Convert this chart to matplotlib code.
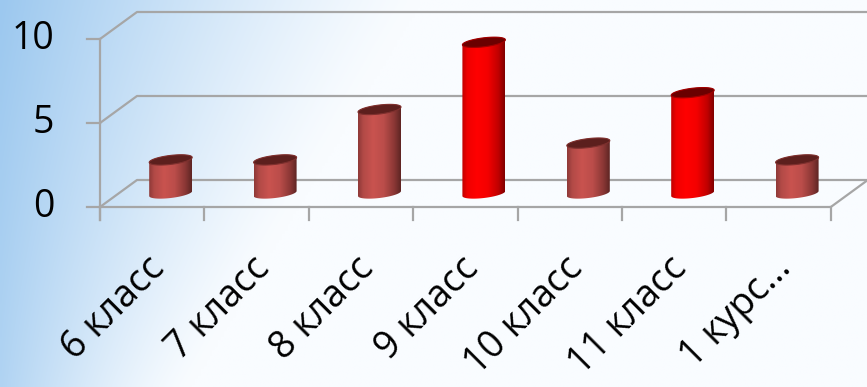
import numpy as np
import matplotlib
matplotlib.use("Agg")
import matplotlib.pyplot as plt
from matplotlib.path import Path
from matplotlib.patches import PathPatch
from matplotlib.colors import to_rgb

categories = ["6 класс", "7 класс", "8 класс", "9 класс", "10 класс", "11 класс", "1 курс..."]
values = [2, 2, 5, 9, 3, 6, 2]
highlight = [False, False, False, True, False, True, False]
yticks = [0, 5, 10]

plt.rcParams['font.family'] = ['Open Sans', 'DejaVu Sans']

fig = plt.figure(figsize=(8.67, 3.87), dpi=100)
ax = fig.add_axes([0, 0, 1, 1])
ax.set_axis_off()

# axis scale: one category = 104.4 px, one unit = 16.8 px
px_x = 104.4
px_y = 16.8
x0, y0 = 100, 207
xlim = (-x0 / px_x, (867 - x0) / px_x)
ylim = ((y0 - 387) / px_y, y0 / px_y)

# depth of the 3d box
dx = 37 / px_x
dy = 27 / px_y

# background: light blue in the upper left, fading to white
gx = np.linspace(0, 867, 300)
gy = np.linspace(0, 387, 120)[:, None]
strength = 1.0 - 0.22 * gy / 387
reach = 420 - 230 * gy / 387
fade = strength * np.clip(1 - gx[None, :] / reach, 0, 1) ** 1.3
blue = np.array(to_rgb("#9cc8ef"))
white = np.array(to_rgb("#f9fcff"))
grad = white + (blue - white) * fade[:, :, None]
ax.imshow(grad, extent=[xlim[0], xlim[1], ylim[0], ylim[1]], aspect='auto',
          zorder=0, interpolation='bilinear')

n = len(categories)
grid_c = "#a6a6a6"
lw = 1.6

# back wall and side wall grid lines
for v in yticks:
    ax.plot([0, dx, xlim[1] + 0.1], [v, v + dy, v + dy], color=grid_c, lw=lw, zorder=1,
            solid_capstyle='butt')
# floor front and right edge
ax.plot([0, n, n + dx * 1.0], [0, 0, dy], color=grid_c, lw=lw, zorder=1)
# vertical axis
ax.plot([0, 0], [-0.8, max(yticks)], color=grid_c, lw=lw, zorder=1)
# ticks
for i in range(n + 1):
    ax.plot([i, i], [0, -0.8], color=grid_c, lw=lw, zorder=1)
for v in yticks:
    ax.plot([-13 / px_x, 0], [v, v], color=grid_c, lw=lw, zorder=1)
    ax.text(-46 / px_x, v, str(v), ha='right', va='center', fontsize=27, color='black')

# x labels
for i, lab in enumerate(categories):
    ax.text(i + 0.57, -3.3, lab, rotation=45, ha='right', va='center',
            rotation_mode='anchor', fontsize=27, color='black')

# cylinders
a = 21.5 / px_x
b = 4.5 / px_y
k = 2.5 / px_y / a
base = dy / 2


def ellipse_pts(cx, cy, t0, t1, m=60):
    tt = np.linspace(t0, t1, m)
    xs = cx + a * np.cos(tt)
    ys = cy + b * np.sin(tt) + k * a * np.cos(tt)
    return xs, ys


brown = [(0.0, "#8e3937"), (0.12, "#b24a47"), (0.35, "#c9534f"), (0.6, "#bb4d4a"),
         (0.85, "#8a3735"), (1.0, "#5e2523")]
red = [(0.0, "#c00000"), (0.12, "#f00000"), (0.35, "#ff0000"), (0.6, "#f40000"),
       (0.85, "#c00000"), (1.0, "#800000")]

for i, v in enumerate(values):
    cx = i + 0.5 + dx / 2
    top = base + v
    bx, by = ellipse_pts(cx, base, np.pi, 2 * np.pi)
    tx, ty = ellipse_pts(cx, top, 0, np.pi)
    xs = np.concatenate([bx, tx])
    ys = np.concatenate([by, ty])
    verts = np.column_stack([xs, ys])
    verts = np.vstack([verts, verts[:1]])
    codes = [Path.MOVETO] + [Path.LINETO] * (len(verts) - 2) + [Path.CLOSEPOLY]
    body = PathPatch(Path(verts, codes), facecolor='none', edgecolor='none', zorder=3)
    ax.add_patch(body)

    stops = red if highlight[i] else brown
    pos = [s[0] for s in stops]
    cols = np.array([to_rgb(s[1]) for s in stops])
    ss = np.linspace(0, 1, 100)
    row = np.column_stack([np.interp(ss, pos, cols[:, c]) for c in range(3)])
    img = np.repeat(row[None, :, :], 2, axis=0)
    im = ax.imshow(img, extent=[cx - a, cx + a, base - 1, top + 1], aspect='auto',
                   zorder=3, interpolation='bilinear')
    im.set_clip_path(body)

    ex, ey = ellipse_pts(cx, top, 0, 2 * np.pi)
    topc = "#6a0000" if highlight[i] else "#5c1f1d"
    rim = "#a00000" if highlight[i] else "#7e302e"
    ax.fill(ex, ey, color=topc, zorder=4, ec=rim, lw=0.8)

ax.set_xlim(*xlim)
ax.set_ylim(*ylim)

fig.savefig("out.png", dpi=100)
